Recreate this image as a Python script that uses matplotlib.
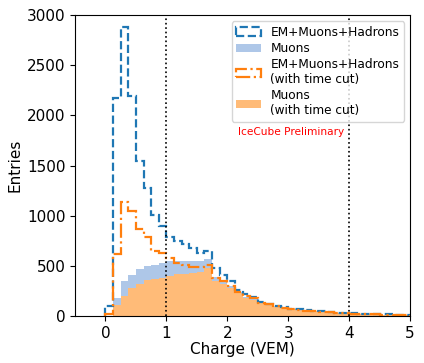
import numpy as np
import matplotlib
matplotlib.use("Agg")
import matplotlib.pyplot as plt

# bin edges: 0 .. 5 in steps of 0.125
bin_edges = np.linspace(0, 5, 41)
bin_centers = 0.5 * (bin_edges[:-1] + bin_edges[1:])

total_all = [100, 2170, 2880, 2190, 1550, 1274, 1008, 898, 791, 745,
             715, 675, 630, 650, 480, 410, 350, 260, 220, 190,
             140, 120, 100, 85, 70, 65, 55, 50, 45, 40,
             30, 28, 25, 22, 20, 18, 15, 15, 12, 10]

muons_all = [0, 180, 353, 409, 466, 502, 505, 525, 549, 545,
             545, 548, 550, 569, 393, 336, 300, 235, 190, 170,
             130, 112, 95, 80, 67, 62, 55, 48, 42, 37,
             28, 26, 22, 20, 18, 16, 13, 13, 10, 9]

total_cut = [20, 620, 1140, 1050, 867, 785, 648, 625, 576, 530,
             509, 490, 490, 510, 375, 350, 295, 240, 200, 175,
             130, 115, 95, 80, 65, 60, 52, 47, 42, 37,
             28, 26, 22, 20, 18, 16, 13, 13, 10, 9]

muons_cut = [0, 110, 203, 283, 323, 356, 366, 383, 399, 416,
             418, 426, 443, 476, 349, 316, 276, 226, 176, 160,
             126, 110, 93, 77, 67, 60, 52, 45, 40, 35,
             27, 25, 21, 19, 17, 15, 12, 12, 9, 8]

labels = ["EM+Muons+Hadrons", "Muons",
          "EM+Muons+Hadrons\n(with time cut)", "Muons\n(with time cut)"]
vlines_x = [1, 4]

fig = plt.figure(figsize=(4.24, 3.63), dpi=100)
ax = fig.add_axes([0.177, 0.1295, 0.79, 0.829])

_, _, p_mu = ax.hist(bin_centers, bins=bin_edges, weights=muons_all,
                     histtype='stepfilled', color='#aec7e8', label=labels[1])
_, _, p_muc = ax.hist(bin_centers, bins=bin_edges, weights=muons_cut,
                      histtype='stepfilled', color='#ffbb78', label=labels[3])
_, _, p_tot = ax.hist(bin_centers, bins=bin_edges, weights=total_all,
                      histtype='step', color='tab:blue', linestyle='--',
                      linewidth=1.6, label=labels[0])
_, _, p_totc = ax.hist(bin_centers, bins=bin_edges, weights=total_cut,
                       histtype='step', color='tab:orange', linestyle='-.',
                       linewidth=1.6, label=labels[2])

for xv in vlines_x:
    ax.axvline(xv, color='black', linestyle=':', linewidth=1.2)

ax.set_xlim(-0.5, 5)
ax.set_ylim(0, 3000)
ax.set_xlabel("Charge (VEM)", fontsize=11, labelpad=1)
ax.set_ylabel("Entries", fontsize=11, labelpad=3)
ax.tick_params(labelsize=11)

ax.legend([p_tot[0], p_mu[0], p_totc[0], p_muc[0]], labels,
          loc='upper right', fontsize=8.7, handlelength=2.0,
          labelspacing=0.25, borderpad=0.4, handletextpad=0.8)

ax.text(3.04, 1836, "IceCube Preliminary", color='red', fontsize=7.6,
        ha='center', va='center')

fig.savefig("out.png", dpi=100)
